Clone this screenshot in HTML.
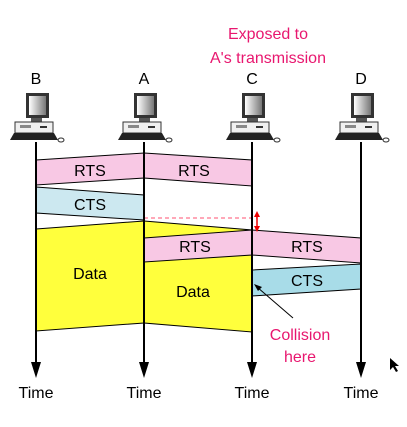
<!DOCTYPE html>
<html><head><meta charset="utf-8"><style>
body{margin:0;background:#fff}
svg{display:block}
text{font-family:"Liberation Sans",sans-serif}
</style></head><body>
<svg width="407" height="427" viewBox="0 0 407 427">
<defs>
<linearGradient id="scr" x1="0" x2="1"><stop offset="0" stop-color="#fff"/><stop offset="1" stop-color="#777"/></linearGradient>
<g id="pc">
  <rect x="-10" y="93" width="23" height="25" fill="#333"/>
  <rect x="-7" y="96" width="17" height="19" fill="url(#scr)"/>
  <rect x="-5" y="118" width="11" height="4" fill="#555"/>
  <rect x="-21" y="122" width="38" height="11" fill="#f0f0f0" stroke="#333" stroke-width="1"/>
  <rect x="-16" y="125" width="11" height="3" fill="#888"/>
  <rect x="4" y="126" width="7" height="2" fill="#333"/>
  <polygon points="-22,133 18,133 22,140 -26,140" fill="#222"/>
  <ellipse cx="25" cy="140" rx="3" ry="2" fill="none" stroke="#333"/>
</g>
</defs>
<text x="268" y="39" font-size="16" fill="#e8176f" text-anchor="middle">Exposed to</text>
<text x="268" y="63" font-size="16" fill="#e8176f" text-anchor="middle">A's transmission</text>
<g font-size="16" text-anchor="middle" fill="#000">
<text x="36" y="84">B</text>
<text x="144" y="84">A</text>
<text x="252" y="84">C</text>
<text x="361" y="84">D</text>
</g>
<use href="#pc" x="36"/>
<use href="#pc" x="144"/>
<use href="#pc" x="252"/>
<use href="#pc" x="361"/>
<g stroke="#000" stroke-width="1">
<polygon points="36,229 144,221 144,323 36,331" fill="#ffff3c"/>
<polygon points="144,221 252,230 252,332 144,323" fill="#ffff3c"/>
<polygon points="36,160 144,153 144,178 36,185" fill="#f8c8e4"/>
<polygon points="144,153 252,160 252,186 144,178" fill="#f8c8e4"/>
<polygon points="36,187 144,195 144,220 36,213" fill="#cce8f0"/>
<polygon points="144,238 252,230 252,255 144,262" fill="#f8c8e4"/>
<polygon points="252,230 361,238 361,263 252,255" fill="#f8c8e4"/>
<polygon points="252,270 361,264 361,289 252,296" fill="#a8dce8"/>
</g>
<g font-size="16" text-anchor="middle" fill="#000">
<text x="90" y="176">RTS</text><text x="194" y="176">RTS</text>
<text x="90" y="210">CTS</text>
<text x="195" y="252">RTS</text><text x="307" y="252">RTS</text>
<text x="307" y="286">CTS</text>
<text x="90" y="279">Data</text><text x="193" y="297">Data</text>
</g>
<line x1="144" y1="218" x2="257" y2="218" stroke="#ff5070" stroke-dasharray="4,3"/>
<line x1="257" y1="215" x2="257" y2="228" stroke="#e00" stroke-width="1.5"/>
<polygon points="257,211 254,217 260,217" fill="#e00"/>
<polygon points="257,232 254,226 260,226" fill="#e00"/>
<g stroke="#000" stroke-width="2">
<line x1="36" y1="142" x2="36" y2="370"/><line x1="144" y1="142" x2="144" y2="370"/>
<line x1="252" y1="142" x2="252" y2="370"/><line x1="361" y1="142" x2="361" y2="370"/>
</g>
<g fill="#000">
<polygon points="31,362 41,362 36,378"/><polygon points="139,362 149,362 144,378"/>
<polygon points="247,362 257,362 252,378"/><polygon points="356,362 366,362 361,378"/>
</g>
<g font-size="16" text-anchor="middle" fill="#000">
<text x="36" y="398">Time</text>
<text x="144" y="398">Time</text>
<text x="252" y="398">Time</text>
<text x="361" y="398">Time</text>
</g>
<line x1="293" y1="318" x2="257" y2="287" stroke="#000" stroke-width="1"/>
<polygon points="254,284 262,287 258,291" fill="#000"/>
<text x="300" y="340" font-size="16" fill="#e8176f" text-anchor="middle">Collision</text>
<text x="300" y="362" font-size="16" fill="#e8176f" text-anchor="middle">here</text>
<polygon points="390,358 390,370 393,367 396,372 398,371 395,366 399,366" fill="#000"/>
</svg>
</body></html>
